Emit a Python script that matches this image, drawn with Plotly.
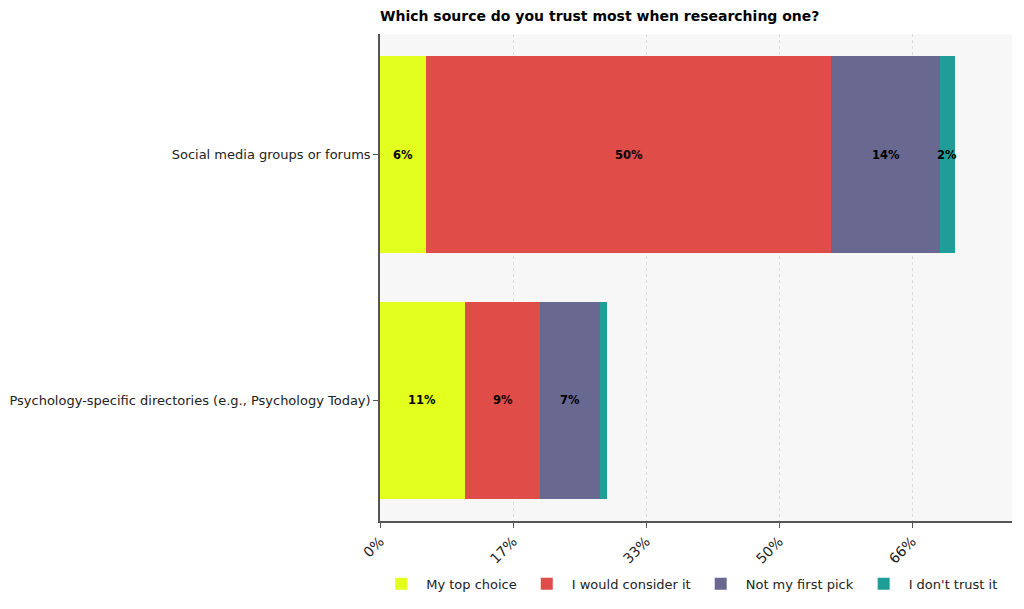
import plotly.graph_objects as go

categories = ["Psychology-specific directories (e.g., Psychology Today)",
              "Social media groups or forums"]
series_names = ["My top choice", "I would consider it", "Not my first pick", "I don't trust it"]
top_choice = [10.6, 5.8]
would_consider = [9.4, 50.5]
not_first = [7.4, 13.6]
dont_trust = [0.9, 1.8]
tick_vals = [0, 16.6, 33.2, 49.8, 66.4]
tick_text = ["0%", "17%", "33%", "50%", "66%"]
colors = ["#e3ff1d", "#e04c48", "#686890", "#1f9e99"]

series = [top_choice, would_consider, not_first, dont_trust]
fig = go.Figure()
for name, vals, col in zip(series_names, series, colors):
    fig.add_trace(go.Bar(
        y=[0, 1], x=vals, name=name, orientation="h",
        marker=dict(color=col, line=dict(width=0)),
        width=0.8,
    ))

annotations = []
for i in range(len(categories)):
    cum = 0
    for vals in series:
        v = vals[i]
        if v >= 1.5:
            annotations.append(dict(
                x=cum + v / 2, y=i, xref="x", yref="y", text=f"{round(v):.0f}%",
                showarrow=False, font=dict(family="DejaVu Sans", size=11.5, color="black", weight="bold"),
            ))
        cum += v

total_max = max(sum(s[i] for s in series) for i in range(len(categories)))

fig.update_layout(
    barmode="stack",
    width=1024, height=609,
    margin=dict(l=380, r=12, t=34, b=88, autoexpand=False),
    paper_bgcolor="white",
    plot_bgcolor="#f7f7f7",
    font=dict(family="DejaVu Sans", size=13, color="#222"),
    title=dict(text="<b>Which source do you trust most when researching one?</b>",
               x=380 / 1024, xanchor="left", y=1 - 16 / 609, yanchor="middle",
               font=dict(family="DejaVu Sans", size=14, color="black")),
    xaxis=dict(range=[0, total_max * 1.1], tickvals=tick_vals, ticktext=tick_text,
               tickangle=-45, showgrid=True, gridcolor="#dddddd", griddash="dot", gridwidth=1,
               showline=True, linecolor="#555555", linewidth=1.5, ticks="outside",
               ticklen=5, tickcolor="#555555", zeroline=False, automargin=False,
               tickfont=dict(size=14, color="#222")),
    yaxis=dict(range=[-0.49, 1.49], tickvals=[0, 1], ticktext=categories,
               showgrid=False, showline=True, linecolor="#555555", linewidth=1.5,
               ticks="outside", ticklen=5, tickcolor="#555555", zeroline=False, automargin=False,
               tickfont=dict(size=13, color="#222")),
    legend=dict(orientation="h", x=0.49, xanchor="center", y=-0.098, yanchor="top",
                font=dict(size=13, color="#222"), traceorder="normal", itemwidth=40),
    annotations=annotations,
    bargap=0.2,
)

fig.write_html("out.html")
